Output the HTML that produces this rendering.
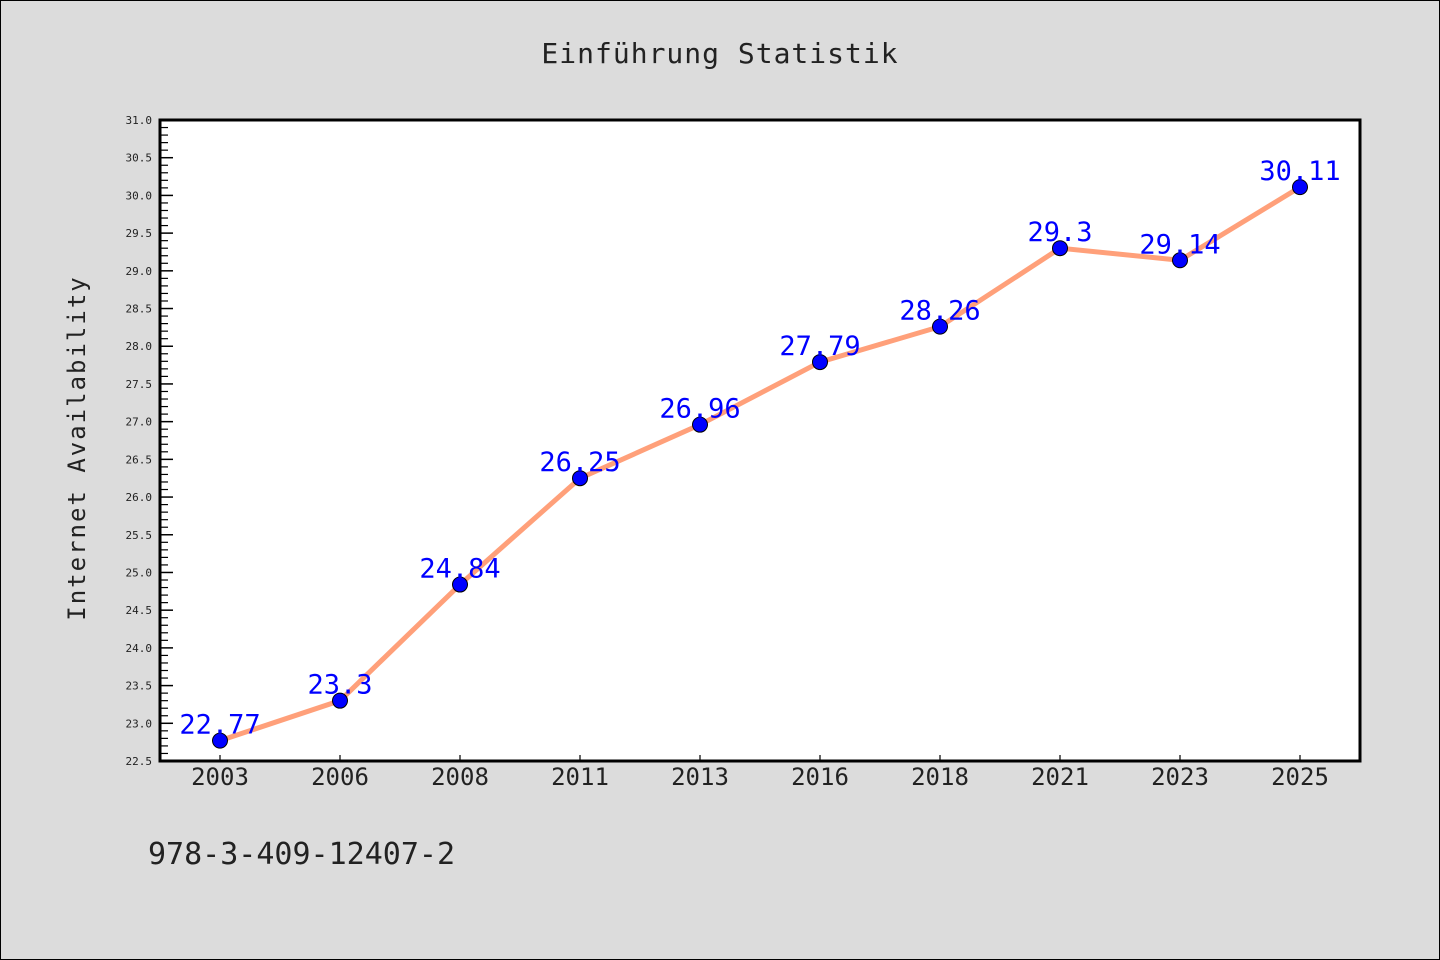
<!DOCTYPE html>
<html><head><meta charset="utf-8"><style>
html,body{margin:0;padding:0;background:#dcdcdc;}
svg{display:block;}
text{font-family:"DejaVu Sans Mono","Liberation Mono",monospace;}
</style></head><body>
<svg id="chart" width="1440" height="960" xmlns="http://www.w3.org/2000/svg">
<rect x="0.5" y="0.5" width="1439" height="959" fill="#dcdcdc" stroke="#000" stroke-width="1"/>
<text x="720" y="63" text-anchor="middle" font-size="28" fill="#222" letter-spacing="1">Einführung Statistik</text>
<rect x="160" y="120" width="1200" height="641" fill="#fff"/>
<g id="yaxis"></g>
<g id="xaxis"></g>
<g id="series"></g>
<rect x="160" y="120" width="1200" height="641" fill="none" stroke="#000" stroke-width="3"/>
<text transform="translate(85,448) rotate(-90)" text-anchor="middle" font-size="24" fill="#222" letter-spacing="2">Internet Availability</text>
<text x="148" y="864" font-size="30" fill="#222">978-3-409-12407-2</text>
</svg>
<script>
const categories = ["2003","2006","2008","2011","2013","2016","2018","2021","2023","2025"];
const values = [22.77,23.3,24.84,26.25,26.96,27.79,28.26,29.3,29.14,30.11];
const valueLabels = ["22.77","23.3","24.84","26.25","26.96","27.79","28.26","29.3","29.14","30.11"];
const yTicks = [22.5,23.0,23.5,24.0,24.5,25.0,25.5,26.0,26.5,27.0,27.5,28.0,28.5,29.0,29.5,30.0,30.5,31.0];
const yMin = 22.5, yMax = 31.0;
const L=160,R=1360,T=120,B=761;
const NS="http://www.w3.org/2000/svg";
function y(v){return B-(v-yMin)/(yMax-yMin)*(B-T);}
function x(i){return L+(R-L)/categories.length*(i+0.5);}
function mk(tag,attrs,parent){const e=document.createElementNS(NS,tag);for(const k in attrs)e.setAttribute(k,attrs[k]);parent.appendChild(e);return e;}
const ya=document.getElementById('yaxis'),xa=document.getElementById('xaxis'),sg=document.getElementById('series');
yTicks.forEach((t,i)=>{
  const ln=mk('line',{x1:L,x2:L+13,y1:y(t),y2:y(t),stroke:'#000','stroke-width':1.5},ya);
  
  
  const tx=mk('text',{x:152,y:y(t)+4,'text-anchor':'end','font-size':11,fill:'#222'},ya);
  tx.textContent=t.toFixed(1);
  
  
  if(i<yTicks.length-1){for(let k=1;k<5;k++){const v=t+(yTicks[i+1]-t)*k/5;
    const m=mk('line',{x1:L,x2:L+8,y1:y(v),y2:y(v),stroke:'#000','stroke-width':1.2},ya);
    
    }}
});
categories.forEach((c,i)=>{
  const ln=mk('line',{x1:x(i),x2:x(i),y1:B,y2:B-6,stroke:'#000','stroke-width':1.2},xa);
  
  
  const tx=mk('text',{x:x(i),y:785,'text-anchor':'middle','font-size':24,fill:'#222'},xa);
  tx.textContent=c;
  
  
});
const pl=mk('polyline',{points:values.map((v,i)=>x(i)+','+y(v)).join(' '),fill:'none',stroke:'#ffa07a','stroke-width':5},sg);


values.forEach((v,i)=>{
  const c=mk('circle',{cx:x(i),cy:y(v),r:7.5,fill:'#0000ff',stroke:'#000','stroke-width':1},sg);
  
  
  const t=mk('text',{x:x(i),y:y(v)-7,'text-anchor':'middle','font-size':27,fill:'#0000ff'},sg);
  t.textContent=valueLabels[i];
  
  
});
</script>
</body></html>
